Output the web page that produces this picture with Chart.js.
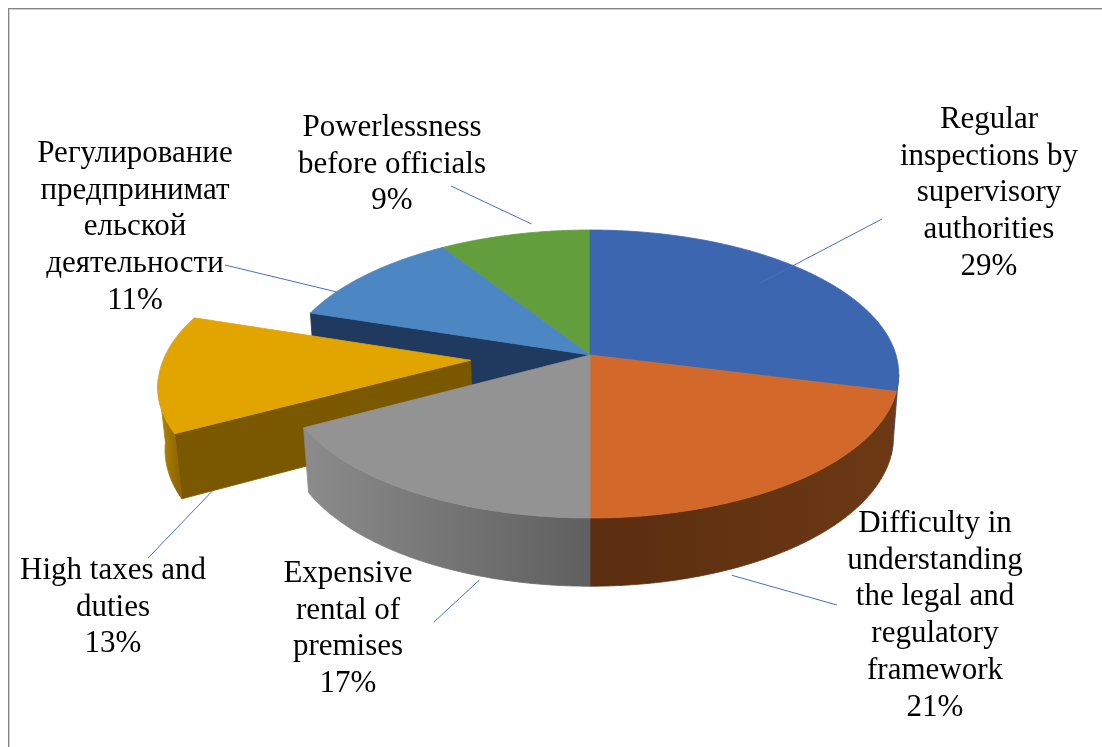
<!DOCTYPE html>
<html>
<head>
<meta charset="utf-8">
<script src="https://cdn.jsdelivr.net/npm/chart.js@4.4.1/dist/chart.umd.min.js"></script>
<style>
  html, body { margin: 0; padding: 0; background: #ffffff; }
  #wrap { position: relative; width: 1102px; height: 747px; }
  canvas { display: block; }
</style>
</head>
<body>
<div id="wrap"><canvas id="c" width="1102" height="747"></canvas></div>
<script>
// ---- data ----
const categories = [
  'Regular inspections by supervisory authorities',
  'Difficulty in understanding the legal and regulatory framework',
  'Expensive rental of premises',
  'High taxes and duties',
  'Регулирование предпринимательской деятельности',
  'Powerlessness before officials'
];
const shares = [29, 21, 17, 13, 11, 9];
const labelLines = [
  ['Regular', 'inspections by', 'supervisory', 'authorities'],
  ['Difficulty in', 'understanding', 'the legal and', 'regulatory', 'framework'],
  ['Expensive', 'rental of', 'premises'],
  ['High taxes and', 'duties'],
  ['Регулирование', 'предпринимат', 'ельской', 'деятельности'],
  ['Powerlessness', 'before officials']
];
// fraction of the radius each slice is pulled out
const explode = [0, 0, 0, 0.39, 0, 0];

// ---- styles ----
const topColors  = ['#3d66b0', '#d2692a', '#939393', '#e2a500', '#4c87c3', '#629e3b'];
const wallColors = [
  ['#2f5391', '#2a4a82'],
  ['#6d3915', '#5a2d0f'],
  ['#5f5f5f', '#8b8b8b'],
  ['#8d6600', '#b08200'],
  ['#1f3a5e', '#1f3a5e'],
  ['#3f6a26', '#3f6a26']
];
const cutColors  = ['#2a4a82', '#6b3714', '#5f5f5f', '#7a5800', '#1f3a5e', '#3f6a26'];

// tilted-disc projection: horizontal / vertical semi-axes, perspective and thickness
const view = { a: 306, b: 141.5, p: 0.132, q: 0.0165, depth: 63 };

// label boxes: text centre x, first baseline, leader line anchor on the slice, leader end near the text
const labelLayout = [
  { x: 989, y: 128, anchor: { frac: 0.455, r: 0.81, w: 0 },  end: [882, 219] },
  { x: 935, y: 532, anchor: { frac: 0.687, r: 1.03, w: 1 },  end: [837, 605] },
  { x: 348, y: 582, anchor: { frac: 0.30,  r: 1.02, w: 1 },  end: [434, 622] },
  { x: 113, y: 579, anchor: { frac: 0.0,   r: 0.90, w: 1 },  end: [148, 558] },
  { x: 135, y: 162, anchor: { frac: 0.26,  r: 1.0,  w: 0 },  end: [225, 265] },
  { x: 392, y: 136, anchor: { frac: 0.64,  r: 1.077, w: 0 }, end: [451, 186] }
];
const lineGap = 36.7;
const labelFont = '31px "Liberation Serif", "Times New Roman", serif';

const TWO_PI = Math.PI * 2;
const total = shares.reduce((s, v) => s + v, 0);

function makeProjector(cx, cy) {
  return function (u, v, w) {
    const s = 1 / (1 - view.p * v + view.q * w);
    return [cx + view.a * u * s, cy + (view.b * v + view.depth * w) * s];
  };
}

const pie3d = {
  id: 'pie3d',
  beforeDraw(chart) {
    const ctx = chart.ctx;
    ctx.save();
    ctx.fillStyle = '#ffffff';
    ctx.fillRect(0, 0, chart.width, chart.height);
    ctx.fillStyle = '#858585';
    ctx.fillRect(8, 8, chart.width - 8, 1);
    ctx.fillRect(8, 8, 1, chart.height - 8);
    ctx.fillStyle = '#d0d0d0';
    ctx.fillRect(9, 9, chart.width - 9, 1);
    ctx.fillRect(9, 9, 1, chart.height - 9);
    ctx.restore();
  },
  beforeDatasetDraw() {
    return false;
  },
  afterDatasetsDraw(chart) {
    const ctx = chart.ctx;
    const meta = chart.getDatasetMeta(0);
    const n = meta.data.length;
    const cx = meta.data[0].x, cy = meta.data[0].y;
    const project = makeProjector(cx, cy);

    const slices = meta.data.map((arc, i) => {
      const a1 = arc.startAngle + Math.PI / 2;
      const a2 = arc.endAngle + Math.PI / 2;
      const am = (a1 + a2) / 2;
      const d = explode[i];
      return { i, a1, a2, d, ox: d * Math.sin(am), oy: -d * Math.cos(am) };
    });
    const P = (s, ang, r, w) =>
      project(s.ox + r * Math.sin(ang), s.oy - r * Math.cos(ang), w);

    function rimPath(s, from, to, w, first) {
      const steps = Math.max(2, Math.ceil(Math.abs(to - from) / 0.01));
      for (let k = 0; k <= steps; k++) {
        const ang = from + (to - from) * k / steps;
        const pt = P(s, ang, 1, w);
        if (k === 0 && first) ctx.moveTo(pt[0], pt[1]);
        else ctx.lineTo(pt[0], pt[1]);
      }
    }

    // side faces, sorted back to front
    const faces = [];
    const sil = Math.acos(-view.p);
    slices.forEach(s => {
      const lo = Math.max(s.a1, sil), hi = Math.min(s.a2, TWO_PI - sil);
      if (hi > lo) faces.push({ kind: 'wall', s, lo, hi, key: s.oy - Math.cos((lo + hi) / 2) });
      const prev = slices[(s.i + n - 1) % n], next = slices[(s.i + 1) % n];
      if (s.d !== prev.d && -Math.cos(s.a1 - Math.PI / 2) > 0)
        faces.push({ kind: 'cut', s, ang: s.a1, key: s.oy - 0.5 * Math.cos(s.a1) });
      if (s.d !== next.d && -Math.cos(s.a2 + Math.PI / 2) > 0)
        faces.push({ kind: 'cut', s, ang: s.a2, key: s.oy - 0.5 * Math.cos(s.a2) });
    });
    faces.sort((f, g) => f.key - g.key);

    ctx.save();
    ctx.lineJoin = 'round';
    faces.forEach(f => {
      const s = f.s;
      ctx.beginPath();
      if (f.kind === 'wall') {
        rimPath(s, f.lo, f.hi, 0, true);
        rimPath(s, f.hi, f.lo, 1, false);
        ctx.closePath();
        const pa = P(s, f.lo, 1, 0.5), pb = P(s, f.hi, 1, 0.5);
        let fill;
        if (Math.abs(pa[0] - pb[0]) > 1) {
          fill = ctx.createLinearGradient(pa[0], 0, pb[0], 0);
          fill.addColorStop(0, wallColors[s.i][0]);
          fill.addColorStop(1, wallColors[s.i][1]);
        } else {
          fill = wallColors[s.i][0];
        }
        ctx.fillStyle = fill;
        ctx.strokeStyle = fill;
      } else {
        const c0 = P(s, f.ang, 0, 0), r0 = P(s, f.ang, 1, 0);
        const r1 = P(s, f.ang, 1, 1), c1 = P(s, f.ang, 0, 1);
        ctx.moveTo(c0[0], c0[1]);
        ctx.lineTo(r0[0], r0[1]);
        ctx.lineTo(r1[0], r1[1]);
        ctx.lineTo(c1[0], c1[1]);
        ctx.closePath();
        ctx.fillStyle = cutColors[s.i];
        ctx.strokeStyle = cutColors[s.i];
      }
      ctx.lineWidth = 0.8;
      ctx.fill();
      ctx.stroke();
    });

    // top faces
    const tops = slices.slice().sort((s, t) =>
      (s.oy - Math.cos((s.a1 + s.a2) / 2)) - (t.oy - Math.cos((t.a1 + t.a2) / 2)));
    tops.forEach(s => {
      ctx.beginPath();
      const c = P(s, s.a1, 0, 0);
      ctx.moveTo(c[0], c[1]);
      rimPath(s, s.a1, s.a2, 0, false);
      ctx.closePath();
      ctx.fillStyle = topColors[s.i];
      ctx.strokeStyle = topColors[s.i];
      ctx.lineWidth = 0.8;
      ctx.fill();
      ctx.stroke();
    });

    // leader lines
    ctx.strokeStyle = '#4472c4';
    ctx.lineWidth = 1;
    labelLayout.forEach((L, i) => {
      const s = slices[i];
      const ang = s.a1 + L.anchor.frac * (s.a2 - s.a1);
      const pt = P(s, ang, L.anchor.r, L.anchor.w);
      ctx.beginPath();
      ctx.moveTo(pt[0], pt[1]);
      ctx.lineTo(L.end[0], L.end[1]);
      ctx.stroke();
    });

    // data labels
    ctx.fillStyle = '#000000';
    ctx.font = labelFont;
    ctx.textAlign = 'center';
    ctx.textBaseline = 'alphabetic';
    labelLayout.forEach((L, i) => {
      const lines = labelLines[i].concat([Math.round(shares[i] / total * 100) + '%']);
      lines.forEach((t, k) => ctx.fillText(t, L.x, L.y + k * lineGap));
    });
    ctx.restore();
  }
};

new Chart(document.getElementById('c'), {
  type: 'pie',
  data: {
    labels: categories,
    datasets: [{
      data: shares,
      backgroundColor: topColors,
      borderWidth: 0
    }]
  },
  options: {
    responsive: false,
    animation: false,
    layout: { padding: { left: 78, right: 0, top: 0, bottom: 37 } },
    plugins: {
      legend: { display: false },
      tooltip: { enabled: false }
    }
  },
  plugins: [pie3d]
});
</script>
</body>
</html>
